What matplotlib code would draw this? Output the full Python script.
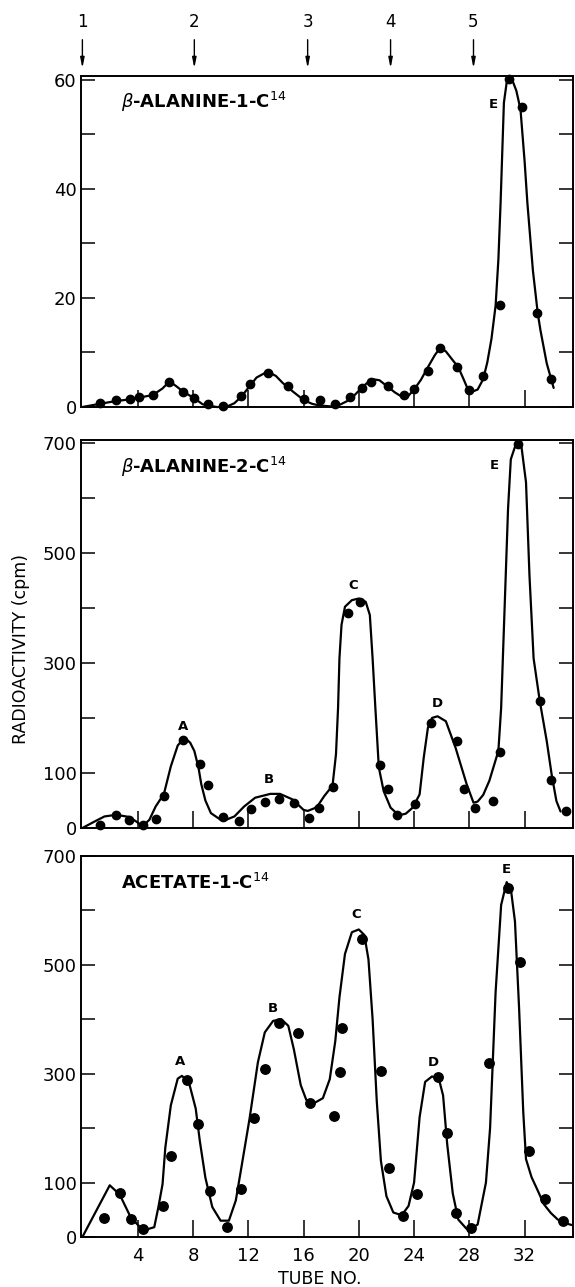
import matplotlib
matplotlib.use("Agg")
import matplotlib.pyplot as plt

plt.rcParams['font.family'] = ['DejaVu Sans']

# ---- panel 1 : beta-alanine-1-C14 ----
tube1 = [1.3, 2.45, 3.45, 4.1, 5.1, 6.3, 7.3, 8.1, 9.1, 10.2, 11.5, 12.1, 13.4, 14.9, 16.0,
         17.2, 18.3, 19.4, 20.2, 20.9, 22.1, 23.3, 24.0, 25.0, 25.9, 27.1, 28.0, 29.0, 30.2,
         30.9, 31.8, 32.9, 33.9]
cpm1 = [0.8, 1.3, 1.4, 1.9, 2.2, 4.6, 2.8, 1.7, 0.6, 0.1, 2.0, 4.3, 6.3, 3.8, 1.4,
        1.3, 0.5, 1.8, 3.5, 4.6, 3.8, 2.2, 3.3, 6.6, 10.8, 7.3, 3.2, 5.7, 18.7,
        60.1, 55.0, 17.3, 5.1]
curve1_x = [0, 1.3, 2.45, 3.45, 5.1, 5.8, 6.3, 6.8, 7.3, 8.1, 8.7, 9.7, 10.4, 11.0, 11.5, 12.1,
            12.6, 13.4, 14.0, 14.5, 15.2, 16.0, 16.6, 17.1, 18.0, 18.7, 19.4, 20.2, 20.6, 21.0,
            21.5, 22.1, 22.6, 23.1, 23.5, 24.0, 24.5, 25.0, 25.5, 25.9, 26.3, 26.7, 27.2, 27.6,
            27.9, 28.2, 28.6, 29.0, 29.3, 29.6, 29.9, 30.1, 30.26, 30.5, 30.7, 30.9, 31.1, 31.4,
            31.7, 32.0, 32.2, 32.6, 32.95, 33.15, 33.6, 34.1]
curve1_y = [0, 0.6, 1.1, 1.4, 2.2, 3.4, 4.7, 3.8, 2.8, 1.6, 0.5, 0.0, 0.0, 0.7, 1.9, 3.8,
            5.4, 6.5, 5.7, 4.4, 2.9, 1.3, 0.6, 0.3, 0.1, 0.5, 1.4, 3.5, 4.4, 5.1,
            4.9, 3.7, 2.7, 1.9, 1.8, 3.2, 5.0, 7.3, 9.5, 10.9, 10.2, 8.9, 7.3, 5.0,
            3.2, 2.8, 3.2, 5.1, 8.2, 12.5, 18.6, 27.0, 37.4, 55.8, 59.5, 60.3, 60.0, 58.0,
            54.6, 45.0, 37.4, 25.0, 17.2, 14.0, 8.0, 3.5]

# ---- panel 2 : beta-alanine-2-C14 ----
tube2 = [1.3, 2.45, 3.4, 4.35, 5.3, 5.9, 7.3, 8.5, 9.1, 10.2, 11.3, 12.2, 13.2, 14.2, 15.3,
         16.4, 17.1, 18.1, 19.2, 20.1, 21.5, 22.1, 22.8, 24.1, 25.2, 27.1, 27.6, 28.4, 29.7,
         30.2, 31.5, 33.1, 33.9, 35.0]
cpm2 = [6, 24, 15, 6, 16, 59, 159, 117, 78, 20, 12, 35, 48, 53, 45,
        18, 37, 75, 390, 410, 115, 71, 23, 43, 191, 158, 70, 37, 49,
        139, 697, 230, 87, 30]
curve2_x = [0, 0.9, 1.6, 2.45, 3.4, 4.0, 4.35, 4.85, 5.3, 5.9, 6.4, 6.9, 7.4, 7.8, 8.1, 8.4,
            8.6, 8.9, 9.3, 10.0, 10.4, 11.0, 11.7, 12.5, 13.6, 14.3, 15.2, 16.0, 16.3, 16.8,
            17.1, 17.5, 18.1, 18.35, 18.5, 18.6, 18.75, 19.0, 19.5, 20.0, 20.5, 20.8, 21.0,
            21.2, 21.45, 21.8, 22.3, 22.9, 23.4, 23.9, 24.4, 24.7, 25.0, 25.3, 25.7, 26.3,
            27.0, 27.8, 28.3, 28.6, 29.0, 29.45, 30.1, 30.3, 30.55, 30.8, 31.0, 31.4, 31.75,
            32.1, 32.35, 32.65, 33.1, 33.6, 33.95, 34.3, 34.6]
curve2_y = [0, 12, 21, 24, 20, 10, 3, 15, 39, 62, 112, 150, 164, 155, 140, 110,
            80, 50, 27, 15, 15, 21, 39, 55, 62, 62, 52, 33, 31, 36,
            43, 58, 77, 134, 218, 308, 369, 402, 414, 417, 411, 387, 308,
            218, 110, 67, 37, 23, 26, 37, 61, 128, 182, 200, 203, 194,
            146, 80, 46, 48, 60, 86, 140, 218, 399, 580, 670, 700, 697,
            628, 459, 308, 230, 158, 98, 49, 30]

# ---- panel 3 : acetate-1-C14 ----
tube3 = [1.6, 2.7, 3.5, 4.4, 5.8, 6.4, 7.6, 8.4, 9.2, 10.5, 11.5, 12.4, 13.2, 14.2, 15.6,
         16.5, 18.2, 18.65, 18.8, 20.2, 21.6, 22.2, 23.2, 24.2, 25.7, 26.4, 27.0, 28.1,
         29.4, 30.8, 31.7, 32.3, 33.5, 34.8]
cpm3 = [35, 81, 33, 14, 57, 149, 289, 207, 84, 19, 88, 218, 309, 393, 375,
        247, 223, 304, 384, 548, 305, 126, 38, 79, 294, 191, 44, 16,
        320, 642, 505, 158, 69, 29]
curve3_x = [0, 1.0, 1.98, 2.7, 3.5, 4.4, 5.2, 5.5, 5.8, 6.0, 6.4, 6.9, 7.2, 7.7, 8.2, 8.5,
            8.9, 9.4, 10.0, 10.6, 11.1, 11.5, 12.1, 12.7, 13.2, 13.8, 14.4, 14.9, 15.3, 15.8,
            16.2, 16.7, 17.4, 17.9, 18.3, 18.6, 19.0, 19.5, 20.0, 20.4, 20.7, 21.0, 21.3,
            21.6, 22.0, 22.5, 23.1, 23.6, 24.0, 24.4, 24.8, 25.3, 25.8, 26.1, 26.4, 26.8,
            27.2, 27.8, 28.2, 28.6, 29.2, 29.5, 29.9, 30.3, 30.7, 31.0, 31.3, 31.6, 31.9,
            32.1, 32.5, 32.9, 33.4, 33.9, 34.4, 34.9, 35.4]
curve3_y = [0, 48, 95, 78, 36, 12, 18, 55, 97, 164, 242, 291, 296, 285, 236, 176,
            109, 55, 30, 30, 67, 127, 218, 321, 376, 397, 400, 388, 345, 279,
            252, 245, 255, 290, 360, 440, 520, 560, 565, 555, 510, 400, 250,
            140, 75, 45, 40, 57, 100, 220, 285, 295, 290, 260, 170, 80,
            32, 15, 16, 23, 100, 200, 450, 610, 652, 640, 580, 420, 230,
            143, 110, 88, 60, 44, 32, 26, 22]

peak_labels = {
    1: [("E", 29.75, 55.5)],
    2: [("A", 7.3, 184), ("B", 13.5, 89), ("C", 19.6, 440), ("D", 25.7, 226), ("E", 29.8, 658)],
    3: [("A", 7.1, 322), ("B", 13.8, 420), ("C", 19.8, 592), ("D", 25.4, 320), ("E", 30.7, 675)],
}
titles = [r'$\beta$-ALANINE-1-C$^{14}$', r'$\beta$-ALANINE-2-C$^{14}$', 'ACETATE-1-C$^{14}$']
fraction_tubes = [0, 8.1, 16.3, 22.3, 28.3]
fraction_names = ['1', '2', '3', '4', '5']

fig = plt.figure(figsize=(5.75, 12.87), dpi=100)
W, H = 575.0, 1287.0
left, width = 81 / W, 492 / W
rects = [(407, 76), (828, 440), (1237, 856)]
ylims = [60.7, 705, 700]
dot_sizes = [6.0, 6.0, 6.8]

data = [(tube1, cpm1, curve1_x, curve1_y), (tube2, cpm2, curve2_x, curve2_y),
        (tube3, cpm3, curve3_x, curve3_y)]

axes = []
for i, (bot, top) in enumerate(rects):
    ax = fig.add_axes([left, 1 - bot / H, width, (bot - top) / H])
    tx, ty, cx, cy = data[i]
    ax.plot(cx, cy, color='black', lw=1.6, solid_joinstyle='round', solid_capstyle='round',
            clip_on=False, zorder=2)
    ax.plot(tx, ty, 'o', color='black', ms=dot_sizes[i], zorder=3, clip_on=False)
    ax.set_xlim(-0.1, 35.5)
    ax.set_ylim(0, ylims[i])
    for s in ax.spines.values():
        s.set_linewidth(1.4)
    ax.set_xticks([4, 8, 12, 16, 20, 24, 28, 32])
    if i == 0:
        ax.set_yticks(range(0, 61, 10))
        ax.set_yticklabels(['0', '', '20', '', '40', '', '60'])
    else:
        ax.set_yticks(range(0, 701, 100))
        ax.set_yticklabels(['0', '100', '', '300', '', '500', '', '700'])
    ax.tick_params(axis='y', direction='in', length=10, width=1.1, left=True, right=True,
                   labelsize=13, pad=3)
    ax.tick_params(axis='x', direction='in', length=12, width=1.1, top=False,
                   labelsize=13, pad=7, labelbottom=(i == 2))
    ax.text(0.082, 0.922 if i == 0 else 0.93, titles[i], transform=ax.transAxes,
            fontsize=13, fontweight='bold', va='center', ha='left')
    for lab, x, y in peak_labels[i + 1]:
        ax.text(x, y, lab, fontsize=9.5, fontweight='bold', ha='center', va='center')
    axes.append(ax)

# fraction arrows above top panel
ax1 = axes[0]
for x, name in zip(fraction_tubes, fraction_names):
    ax1.annotate('', xy=(x, 1.015), xytext=(x, 1.118), xycoords=ax1.get_xaxis_transform(),
                 arrowprops=dict(arrowstyle='-|>,head_width=0.12,head_length=0.6',
                                 color='black', lw=1.0), annotation_clip=False)
    ax1.text(x, 1.162, name, transform=ax1.get_xaxis_transform(), ha='center', va='center',
             fontsize=12)

fig.text(21 / W, 1 - 649 / H, 'RADIOACTIVITY (cpm)', rotation=90, ha='center', va='center',
         fontsize=12.5)
fig.text(320 / W, 1 - 1279 / H, 'TUBE NO.', ha='center', va='center', fontsize=12.5)

fig.savefig('out.png', dpi=100)
